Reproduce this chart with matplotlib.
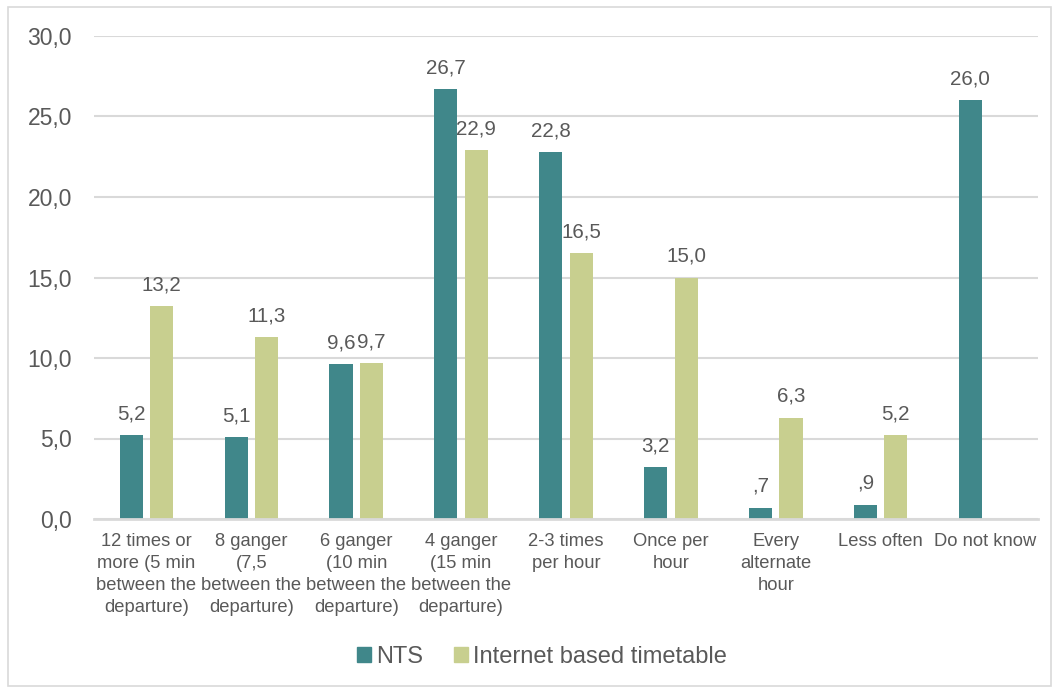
import matplotlib
matplotlib.use("Agg")
import matplotlib.pyplot as plt
from matplotlib.patches import Rectangle, Patch
import numpy as np

categories = [
    "12 times or\nmore (5 min\nbetween the\ndeparture)",
    "8 ganger\n(7,5\nbetween the\ndeparture)",
    "6 ganger\n(10 min\nbetween the\ndeparture)",
    "4 ganger\n(15 min\nbetween the\ndeparture)",
    "2-3 times\nper hour",
    "Once per\nhour",
    "Every\nalternate\nhour",
    "Less often",
    "Do not know",
]
nts = [5.2, 5.1, 9.6, 26.7, 22.8, 3.2, 0.7, 0.9, 26.0]
internet = [13.2, 11.3, 9.7, 22.9, 16.5, 15.0, 6.3, 5.2, None]
series_names = ["NTS", "Internet based timetable"]
yticks = [0, 5, 10, 15, 20, 25, 30]

teal = "#40878A"
green = "#C8CF8F"
txt = "#595959"
grid = "#D9D9D9"

plt.rcParams['font.family'] = ['Liberation Sans', 'DejaVu Sans']

fig = plt.figure(figsize=(10.59, 6.88), dpi=100)
fig.patches.append(Rectangle((8/1059, 2/688), 1043/1059, 679/688, transform=fig.transFigure,
                             fill=False, edgecolor=grid, linewidth=1.2))
ax = fig.add_axes([94/1059, 1-519/688, (1038-94)/1059, (519-36)/688])

x = np.arange(len(categories))
w = 0.22
off = 0.145

def fmt(v):
    s = f"{v:.1f}".replace('.', ',')
    if s.startswith("0,"):
        s = s[1:]
    return s

for i, v in enumerate(nts):
    ax.bar(x[i] - off, v, w, color=teal, zorder=3)
    ax.annotate(fmt(v), (x[i] - off, v), xytext=(0, 8.5), textcoords='offset points',
                ha='center', va='bottom', fontsize=14.8, color=txt)
for i, v in enumerate(internet):
    if v is None:
        continue
    ax.bar(x[i] + off, v, w, color=green, zorder=3)
    ax.annotate(fmt(v), (x[i] + off, v), xytext=(0, 8.5), textcoords='offset points',
                ha='center', va='bottom', fontsize=14.8, color=txt)

ax.set_xlim(-0.5, len(categories) - 0.5)
ax.set_ylim(0, 30)
ax.set_yticks(yticks)
ax.set_yticklabels([f"{t:.1f}".replace('.', ',') for t in yticks], fontsize=16.5, color=txt)
ax.set_xticks(x)
ax.set_xticklabels(categories, fontsize=13.2, color=txt, linespacing=1.4)
ax.tick_params(axis='y', length=0, pad=16)
ax.tick_params(axis='x', length=0, pad=10)
ax.grid(axis='y', color=grid, linewidth=1.5, zorder=0)
for s in ['top', 'right', 'left']:
    ax.spines[s].set_visible(False)
ax.spines['bottom'].set_color(grid)
ax.spines['bottom'].set_linewidth(2)
ax.spines['bottom'].set_zorder(4)

handles = [Patch(color=teal), Patch(color=green)]
fig.legend(handles, series_names, loc='center', bbox_to_anchor=(542/1059, 1-657/688), ncol=2,
           frameon=False, fontsize=17, labelcolor=txt, handlelength=0.6, handleheight=0.6,
           handletextpad=0.2, columnspacing=1.3)

fig.savefig("out.png", dpi=100)
